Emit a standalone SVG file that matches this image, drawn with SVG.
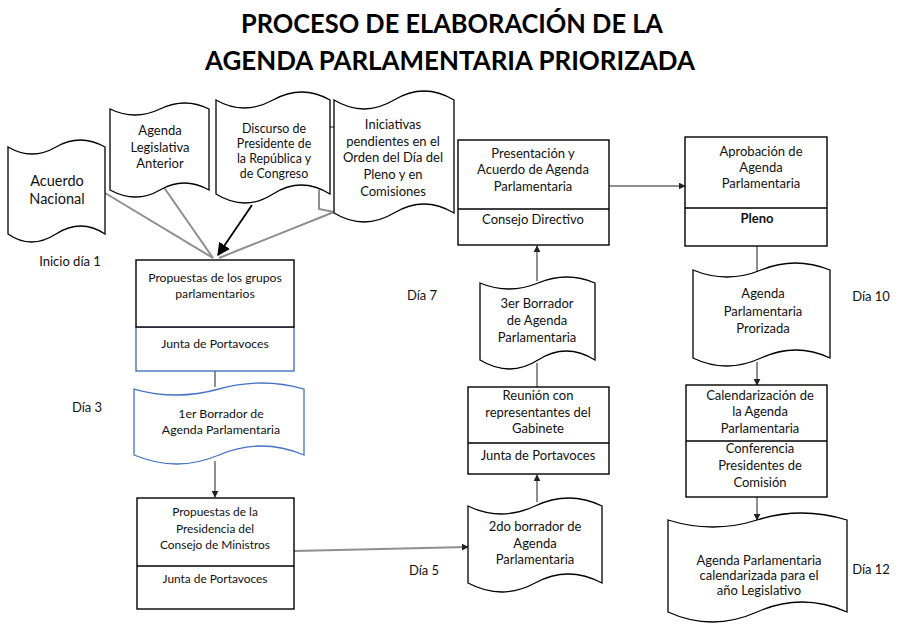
<svg xmlns="http://www.w3.org/2000/svg" width="900" height="640" viewBox="0 0 900 640">
<defs>
<style>
.t{font-family:Lato,"Liberation Sans",Arial,sans-serif;font-size:13px;fill:#111;text-anchor:middle}
.s{font-size:12.2px}
.lbl{font-family:Lato,"Liberation Sans",Arial,sans-serif;font-size:13px;fill:#111;text-anchor:middle}
.title{font-family:Lato,"Liberation Sans",Arial,sans-serif;font-size:27px;font-weight:bold;fill:#000;text-anchor:middle}
.box{fill:#fff;stroke:#000;stroke-width:1.4}
.blue{fill:#fff;stroke:#4472C4;stroke-width:1.4}
.doc{fill:#fff;stroke:#000;stroke-width:1.3}
.docb{fill:#fff;stroke:#4472C4;stroke-width:1.3}
.cn{fill:none;stroke:#8f8f8f;stroke-width:2}
.cb{fill:none;stroke:#000;stroke-width:1.8}
</style>
<marker id="ah" viewBox="0 0 10 10" refX="9" refY="5" markerWidth="7" markerHeight="7" markerUnits="userSpaceOnUse" orient="auto">
<path d="M0,0 L10,5 L0,10 z" fill="#222"/>
</marker>
<marker id="ahb" viewBox="0 0 10 10" refX="9" refY="5" markerWidth="13" markerHeight="13" markerUnits="userSpaceOnUse" orient="auto">
<path d="M0,0 L10,5 L0,10 z" fill="#000"/>
</marker>
</defs>
<rect width="900" height="640" fill="#fff"/>

<g id="title">
<text class="title" x="452" y="33" textLength="422" lengthAdjust="spacingAndGlyphs">PROCESO DE ELABORACIÓN DE LA</text>
<text class="title" x="450" y="70" textLength="490" lengthAdjust="spacingAndGlyphs">AGENDA PARLAMENTARIA PRIORIZADA</text>
</g>

<g id="connectors">
<line class="cn" x1="105" y1="193" x2="213" y2="258"/>
<line class="cn" x1="163" y1="186" x2="213" y2="258"/>
<polyline class="cn" points="319,190 319,209 334,212"/>
<line class="cn" x1="330" y1="127" x2="335" y2="127"/>
<line class="cn" x1="334" y1="212" x2="219" y2="258"/>
<line class="cb" x1="252" y1="205" x2="218" y2="255" marker-end="url(#ahb)"/>
<line class="cn" x1="215" y1="371" x2="215" y2="387"/>
<line class="cn" x1="215" y1="461" x2="215" y2="497" marker-end="url(#ah)"/>
<line class="cn" x1="294" y1="551" x2="468" y2="547" marker-end="url(#ah)"/>
<line class="cn" x1="537" y1="502" x2="537" y2="475" marker-end="url(#ah)"/>
<line class="cn" x1="537" y1="387" x2="537" y2="363"/>
<line class="cn" x1="537" y1="281" x2="537" y2="246" marker-end="url(#ah)"/>
<line class="cn" x1="609" y1="186" x2="685" y2="186" marker-end="url(#ah)"/>
<line class="cn" x1="757" y1="246" x2="757" y2="272"/>
<line class="cn" x1="757" y1="362" x2="757" y2="385" marker-end="url(#ah)"/>
<line class="cn" x1="757" y1="497" x2="757" y2="520" marker-end="url(#ah)"/>
</g>

<g id="acuerdo-nacional">
<path class="doc" d="M8,147 Q32,161 56,147 T105,147 L105,234 Q81,218 56,234 T8,234 Z"/>
<text class="t" x="57" y="186" style="font-size:14.5px">Acuerdo</text>
<text class="t" x="57" y="204" style="font-size:14.5px">Nacional</text>
</g>

<g id="agenda-legislativa">
<path class="doc" d="M110,109 Q135,121 160,109 T209,109 L209,190 Q184,176 160,190 T110,190 Z"/>
<text class="t" x="160" y="135">Agenda</text>
<text class="t" x="160" y="152">Legislativa</text>
<text class="t" x="160" y="168">Anterior</text>
</g>

<g id="discurso">
<path class="doc" d="M216,100 Q244,116 273,100 T330,100 L330,194 Q301,176 273,194 T216,194 Z"/>
<text class="t" x="274" y="133" style="font-size:12.4px">Discurso de</text>
<text class="t" x="274" y="148" style="font-size:12.4px">Presidente de</text>
<text class="t" x="274" y="163" style="font-size:12.4px">la República y</text>
<text class="t" x="274" y="178" style="font-size:12.4px">de Congreso</text>
</g>

<g id="iniciativas">
<path class="doc" d="M334,100 Q364,118 394,100 T454,100 L454,213 Q424,195 394,213 T334,213 Z"/>
<text class="t" x="393" y="129">Iniciativas</text>
<text class="t" x="393" y="146">pendientes en el</text>
<text class="t" x="393" y="162">Orden del Día del</text>
<text class="t" x="393" y="179">Pleno y en</text>
<text class="t" x="393" y="196">Comisiones</text>
</g>

<g id="propuestas-grupos">
<rect class="blue" x="136" y="327" width="158" height="44"/>
<rect class="box" x="136" y="260" width="158" height="67"/>
<text class="t s" x="215" y="282">Propuestas de los grupos</text>
<text class="t s" x="215" y="298">parlamentarios</text>
<text class="t s" x="215" y="348">Junta de Portavoces</text>
</g>

<g id="primer-borrador">
<path class="docb" d="M134,389 Q176,401 219,389 T304,389 L304,455 Q261,437 219,455 T134,455 Z"/>
<text class="t" x="221" y="418" style="font-size:12.3px">1er Borrador de</text>
<text class="t" x="221" y="434" style="font-size:12.3px">Agenda Parlamentaria</text>
</g>

<g id="propuestas-pcm">
<rect class="box" x="137" y="498" width="157" height="111"/>
<line class="box" x1="137" y1="566" x2="294" y2="566"/>
<text class="t" x="215" y="516" style="font-size:11.9px">Propuestas de la</text>
<text class="t" x="215" y="533" style="font-size:11.9px">Presidencia del</text>
<text class="t" x="215" y="549" style="font-size:11.9px">Consejo de Ministros</text>
<text class="t" x="215" y="583" style="font-size:11.9px">Junta de Portavoces</text>
</g>

<g id="segundo-borrador">
<path class="doc" d="M468,506 Q501,522 535,506 T602,506 L602,583 Q568,565 535,583 T468,583 Z"/>
<text class="t" x="535" y="531">2do borrador de</text>
<text class="t" x="535" y="548">Agenda</text>
<text class="t" x="535" y="564">Parlamentaria</text>
</g>

<g id="reunion">
<rect class="box" x="468" y="387" width="141" height="87"/>
<line class="box" x1="468" y1="443" x2="609" y2="443"/>
<text class="t" x="538" y="400">Reunión con</text>
<text class="t" x="538" y="417">representantes del</text>
<text class="t" x="538" y="433">Gabinete</text>
<text class="t" x="538" y="460">Junta de Portavoces</text>
</g>

<g id="tercer-borrador">
<path class="doc" d="M480,283 Q509,295 538,283 T595,283 L595,360 Q566,342 538,360 T480,360 Z"/>
<text class="t" x="537" y="308">3er Borrador</text>
<text class="t" x="537" y="325">de Agenda</text>
<text class="t" x="537" y="342">Parlamentaria</text>
</g>

<g id="presentacion">
<rect class="box" x="458" y="140" width="151" height="105"/>
<line class="box" x1="458" y1="209" x2="609" y2="209"/>
<text class="t" x="533" y="158">Presentación y</text>
<text class="t" x="533" y="174">Acuerdo de Agenda</text>
<text class="t" x="533" y="191">Parlamentaria</text>
<text class="t" x="533" y="224">Consejo Directivo</text>
</g>

<g id="aprobacion">
<rect class="box" x="685" y="137" width="142" height="109"/>
<line class="box" x1="685" y1="208" x2="827" y2="208"/>
<text class="t" x="761" y="156">Aprobación de</text>
<text class="t" x="761" y="172">Agenda</text>
<text class="t" x="761" y="188">Parlamentaria</text>
<text class="t" x="757" y="223" font-weight="bold">Pleno</text>
</g>

<g id="agenda-priorizada">
<path class="doc" d="M693,270 Q727,284 761,270 T830,270 L830,358 Q796,342 761,358 T693,358 Z"/>
<text class="t" x="763" y="298">Agenda</text>
<text class="t" x="763" y="316">Parlamentaria</text>
<text class="t" x="763" y="333">Prorizada</text>
</g>

<g id="calendarizacion">
<rect class="box" x="686" y="385" width="141" height="112"/>
<line class="box" x1="686" y1="441" x2="827" y2="441"/>
<text class="t" x="760" y="400">Calendarización de</text>
<text class="t" x="760" y="416">la Agenda</text>
<text class="t" x="760" y="433">Parlamentaria</text>
<text class="t" x="760" y="453">Conferencia</text>
<text class="t" x="760" y="470">Presidentes de</text>
<text class="t" x="760" y="487">Comisión</text>
</g>

<g id="agenda-calendarizada">
<path class="doc" d="M668,520 Q713,534 757,520 T847,520 L847,612 Q802,592 757,612 T668,612 Z"/>
<text class="t" x="759" y="565">Agenda Parlamentaria</text>
<text class="t" x="759" y="580">calendarizada para el</text>
<text class="t" x="759" y="595">año Legislativo</text>
</g>

<g id="labels">
<text class="lbl" x="70" y="266">Inicio día 1</text>
<text class="lbl" x="87" y="412">Día 3</text>
<text class="lbl" x="424" y="575">Día 5</text>
<text class="lbl" x="422" y="300">Día 7</text>
<text class="lbl" x="871" y="301">Día 10</text>
<text class="lbl" x="871" y="574">Día 12</text>
</g>
</svg>
